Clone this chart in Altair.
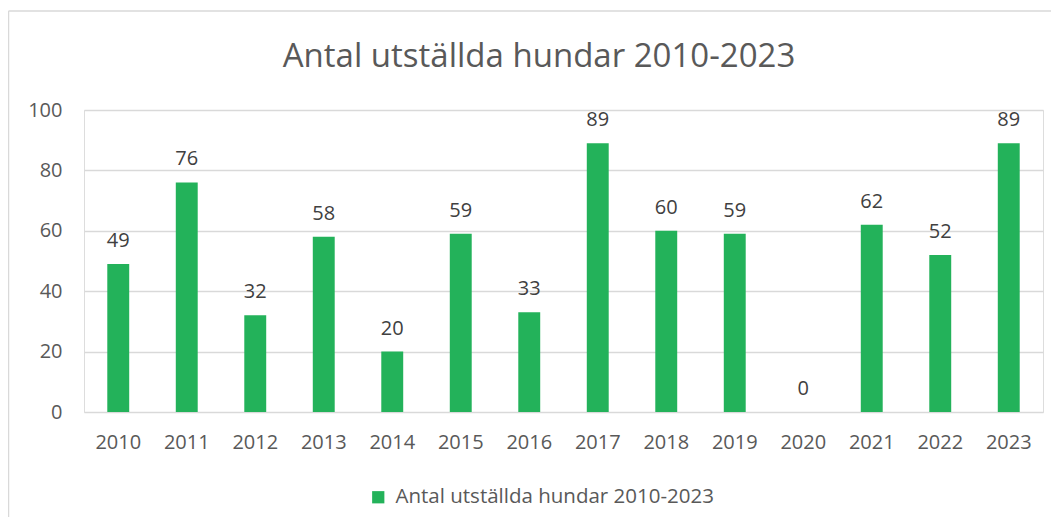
import altair as alt
import pandas as pd

years = ["2010", "2011", "2012", "2013", "2014", "2015", "2016",
         "2017", "2018", "2019", "2020", "2021", "2022", "2023"]
values = [49, 76, 32, 58, 20, 59, 33, 89, 60, 59, 0, 62, 52, 89]
series_name = "Antal utställda hundar 2010-2023"
chart_title = "Antal utställda hundar 2010-2023"
y_ticks = [0, 20, 40, 60, 80, 100]

GREEN = "#23B25A"
FONT = "Open Sans"

df = pd.DataFrame({"year": years, "value": values, "series": [series_name] * len(years)})

x_enc = alt.X("year:N", sort=years,
              scale=alt.Scale(paddingInner=0.68, paddingOuter=0.34),
              axis=alt.Axis(title=None, labelAngle=0, labelFontSize=20, labelColor="#595959",
                            labelFont=FONT, labelPadding=20, ticks=False, domain=False, grid=False))
y_enc = alt.Y("value:Q", scale=alt.Scale(domain=[0, 100], nice=False),
              axis=alt.Axis(title=None, values=y_ticks, labelFontSize=20, labelColor="#595959",
                            labelFont=FONT, labelPadding=22, ticks=False, domain=False,
                            grid=True, gridColor="#D9D9D9", gridWidth=1.3))

base = alt.Chart(df)
bars = base.mark_bar().encode(
    x=x_enc, y=y_enc,
    color=alt.Color("series:N", scale=alt.Scale(range=[GREEN]),
                    legend=alt.Legend(orient="none", legendX=284, legendY=377, title=None,
                                      symbolType="square", symbolSize=150, symbolStrokeWidth=0,
                                      labelFontSize=20.5, labelFont=FONT, labelColor="#595959",
                                      labelOffset=7, labelLimit=0, padding=0)),
)
labels = base.mark_text(baseline="alphabetic", dy=-17, fontSize=20, font=FONT, color="#404040").encode(
    x=alt.X("year:N", sort=years), y="value:Q", text="value:Q"
)

one_df = pd.DataFrame({"t": [chart_title]})
title_mark = alt.Chart(one_df).mark_text(
    fontSize=33, font=FONT, color="#595959", align="center", baseline="alphabetic"
).encode(x=alt.value(455), y=alt.value(-43), text="t:N")

frame_left = alt.Chart(one_df).mark_rule(color="#D9D9D9", strokeWidth=1.5).encode(
    x=alt.value(-75.5), y=alt.value(-99), y2=alt.value(420))
frame_top = alt.Chart(one_df).mark_rule(color="#D9D9D9", strokeWidth=1.5).encode(
    x=alt.value(-75.5), x2=alt.value(980), y=alt.value(-99))

chart = alt.layer(frame_left, frame_top, title_mark, bars, labels).properties(
    width=959, height=302,
    autosize=alt.AutoSizeParams(type="none"),
    padding={"left": 76, "top": 102, "right": 8, "bottom": 105},
).configure_view(stroke=None).configure(background="white")

chart.save("out.html", embed_options={"renderer": "svg", "actions": False})
